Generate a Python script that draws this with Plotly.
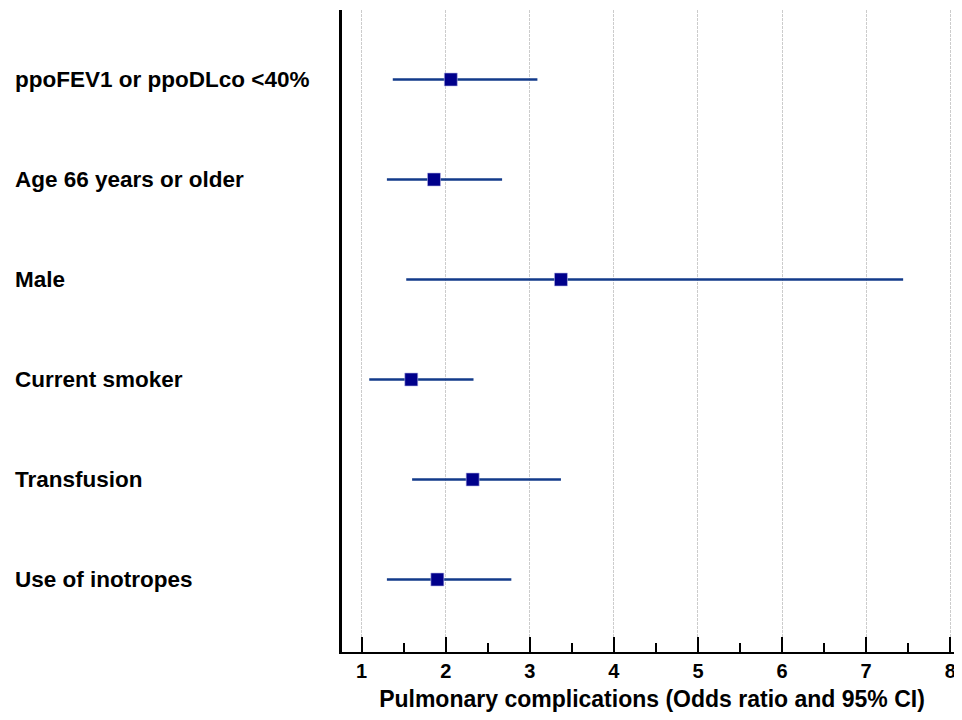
import plotly.graph_objects as go

categories = ["ppoFEV1 or ppoDLco <40%", "Age 66 years or older", "Male",
              "Current smoker", "Transfusion", "Use of inotropes"]
odds_ratio = [2.06, 1.86, 3.37, 1.59, 2.32, 1.90]
ci_low = [1.37, 1.30, 1.53, 1.09, 1.60, 1.30]
ci_high = [3.09, 2.67, 7.44, 2.33, 3.37, 2.78]
tick_values = [1, 2, 3, 4, 5, 6, 7, 8]
tick_labels = ["1", "2", "3", "4", "5", "6", "7", "8"]
x_title = "Pulmonary complications (Odds ratio and 95% CI)"

FONT = "Liberation Sans, Arial, sans-serif"
PLOT_W = 620

fig = go.Figure()
fig.add_trace(go.Scatter(
    x=odds_ratio, y=categories, mode="markers",
    marker=dict(symbol="square", size=13, color="#00008b",
                line=dict(width=0.6, color="#b8b8e8")),
    error_x=dict(type="data", symmetric=False,
                 array=[h - o for h, o in zip(ci_high, odds_ratio)],
                 arrayminus=[o - l for o, l in zip(odds_ratio, ci_low)],
                 color="#123a8a", thickness=2.6, width=0),
    showlegend=False, hoverinfo="skip",
))

for c in categories:
    fig.add_annotation(text=c, xref="paper", yref="y", x=(5 - 334) / PLOT_W, y=c,
                       xanchor="left", yanchor="middle", showarrow=False,
                       font=dict(family=FONT, size=22.5, color="#000000", weight="bold"))

fig.update_layout(
    width=954, height=704,
    margin=dict(l=334, r=0, t=2, b=60),
    plot_bgcolor="white", paper_bgcolor="white",
    font=dict(family=FONT, color="#000000"),
    xaxis=dict(
        range=[0.766, 8.14], tickvals=tick_values, ticktext=tick_labels,
        showgrid=True, gridcolor="#cccccc", gridwidth=1, griddash="3px,1px",
        zeroline=False, showline=True, linecolor="#000000", linewidth=2,
        ticks="inside", ticklen=15, tickwidth=2, tickcolor="#000000",
        tickfont=dict(family=FONT, size=20, color="#000000", weight="bold"),
        minor=dict(ticks="inside", ticklen=9, tickwidth=1.5, tickcolor="#000000",
                   dtick=0.5, tick0=0.5, showgrid=False),
        title=dict(text=x_title, standoff=12,
                   font=dict(family=FONT, size=23, color="#000000", weight="bold")),
    ),
    yaxis=dict(
        range=[5.725, -0.695], showticklabels=False, showgrid=False,
        zeroline=False, showline=True, linecolor="#000000", linewidth=3,
        ticks="",
    ),
)

fig.write_html("out.html")
